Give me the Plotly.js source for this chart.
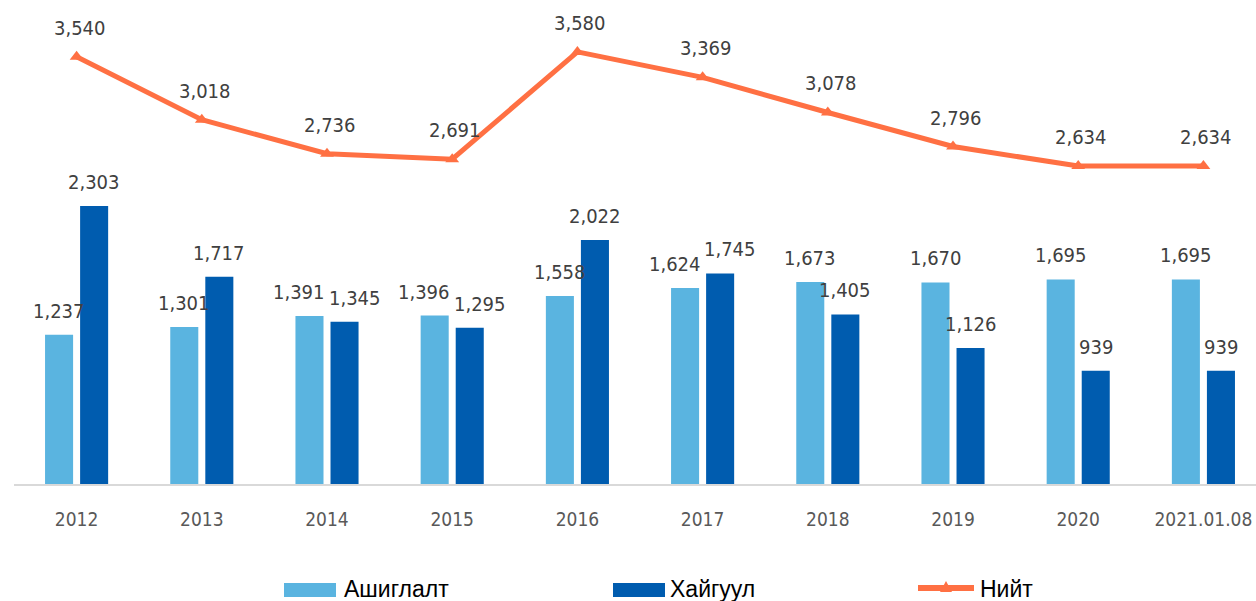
<!DOCTYPE html>
<html>
<head>
<meta charset="utf-8">
<script src="https://cdn.plot.ly/plotly-3.0.1.min.js"></script>
<style>html,body{margin:0;padding:0;background:#fff;}#chart{width:1256px;height:601px;}</style>
</head>
<body>
<div id="chart"></div>
<script>
const categories = ["2012","2013","2014","2015","2016","2017","2018","2019","2020","2021.01.08"];
const ashiglalt = [1237,1301,1391,1396,1558,1624,1673,1670,1695,1695];
const haiguul   = [2303,1717,1345,1295,2022,1745,1405,1126,939,939];
const niit      = [3540,3018,2736,2691,3580,3369,3078,2796,2634,2634];
const seriesNames = ["Ашиглалт","Хайгуул","Нийт"];

const colors = {light:"#5AB4E0", dark:"#005CAF", line:"#FF7043"};
const W = 1256, H = 601, ML = 14, MR = 0, MT = 0, MB = 117;
const YMAX = 4010;
const fmt = v => v.toLocaleString("en-US");
const condensed = "DejaVu Sans Condensed, Liberation Sans Narrow, sans-serif";
const labelSize = 20;
const labelFont = {family:condensed, size:labelSize, color:"#404040"};
const legendFont = {family:"Liberation Sans, Arial, sans-serif", size:23, color:"#000"};

const pw = W - ML - MR, ph = H - MT - MB;
const pxPerUnit = ph / YMAX;

// text width measurement for label collision avoidance
const ctx = document.createElement("canvas").getContext("2d");
ctx.font = labelSize + "px 'DejaVu Sans Condensed'";
const tw = s => ctx.measureText(s).width;

const idx = categories.map((c,i) => i);

const traces = [
  {type:"bar", name:seriesNames[0], x:categories, y:ashiglalt, marker:{color:colors.light, line:{width:0}}, hoverinfo:"y"},
  {type:"bar", name:seriesNames[1], x:categories, y:haiguul, marker:{color:colors.dark, line:{width:0}}, hoverinfo:"y"},
  {type:"scatter", mode:"lines+markers", name:seriesNames[2], x:categories, y:niit,
   line:{color:colors.line, width:5}, marker:{symbol:"triangle-up", size:12, color:colors.line}, hoverinfo:"y"}
];

const halfOffset = 17.5; // px between group centre and bar centre
const annotations = [];
idx.forEach(i => {
  const tL = fmt(ashiglalt[i]), tD = fmt(haiguul[i]);
  let shift = 0;
  if (Math.abs(ashiglalt[i] - haiguul[i]) * pxPerUnit < 22) {
    const need = (tw(tL) + tw(tD)) / 2 + 4;
    if (need > 2 * halfOffset) shift = (need - 2 * halfOffset) / 2;
  }
  annotations.push({x:i, y:ashiglalt[i], xref:"x", yref:"y", text:tL, showarrow:false, xshift:-halfOffset - shift, yshift:24, yanchor:"middle", font:labelFont});
  annotations.push({x:i, y:haiguul[i], xref:"x", yref:"y", text:tD, showarrow:false, xshift:halfOffset + shift, yshift:24, yanchor:"middle", font:labelFont});
  annotations.push({x:i, y:niit[i], xref:"x", yref:"y", text:fmt(niit[i]), showarrow:false, xshift:3, yshift:29, yanchor:"middle", font:labelFont});
});

// custom legend (pixel layout converted to paper coordinates)
const px = x => (x - ML) / pw;
const py = y => (H - MB - y) / ph;
const shapes = [];
const legendItems = [
  {name:seriesNames[0], kind:"box", color:colors.light, x0:284, x1:336, tx:342},
  {name:seriesNames[1], kind:"box", color:colors.dark,  x0:613, x1:665, tx:668},
  {name:seriesNames[2], kind:"line", color:colors.line, x0:918, x1:974, tx:978}
];
legendItems.forEach(it => {
  if (it.kind === "box") {
    shapes.push({type:"rect", xref:"paper", yref:"paper", x0:px(it.x0), x1:px(it.x1), y0:py(597), y1:py(583),
                 fillcolor:it.color, line:{width:0}, layer:"above"});
  } else {
    shapes.push({type:"line", xref:"paper", yref:"paper", x0:px(it.x0), x1:px(it.x1), y0:py(588), y1:py(588),
                 line:{color:it.color, width:6}, layer:"above"});
    const cx = (it.x0 + it.x1) / 2;
    shapes.push({type:"path", xref:"paper", yref:"paper",
                 path:`M ${px(cx-6)} ${py(592)} L ${px(cx+6)} ${py(592)} L ${px(cx)} ${py(581)} Z`,
                 fillcolor:it.color, line:{width:0}, layer:"above"});
  }
  annotations.push({xref:"paper", yref:"paper", x:px(it.tx), y:py(589), xanchor:"left", yanchor:"middle",
                    text:it.name, showarrow:false, font:legendFont});
});

const layout = {
  width:W, height:H,
  margin:{l:ML, r:MR, t:MT, b:MB, autoexpand:false},
  paper_bgcolor:"#fff", plot_bgcolor:"#fff",
  barmode:"group", bargap:0.44, bargroupgap:0.2,
  showlegend:false,
  xaxis:{type:"category", range:[-0.5, 9.42], showgrid:false, zeroline:false,
         showline:true, linecolor:"#D9D9D9", linewidth:2,
         ticks:"outside", ticklen:17, tickcolor:"rgba(0,0,0,0)",
         tickfont:{family:condensed, size:19, color:"#595959"}},
  yaxis:{range:[0, YMAX], showgrid:false, zeroline:false, showline:false, showticklabels:false, ticks:""},
  annotations:annotations,
  shapes:shapes
};

Plotly.newPlot("chart", traces, layout, {displayModeBar:false, staticPlot:true});
</script>
</body>
</html>
